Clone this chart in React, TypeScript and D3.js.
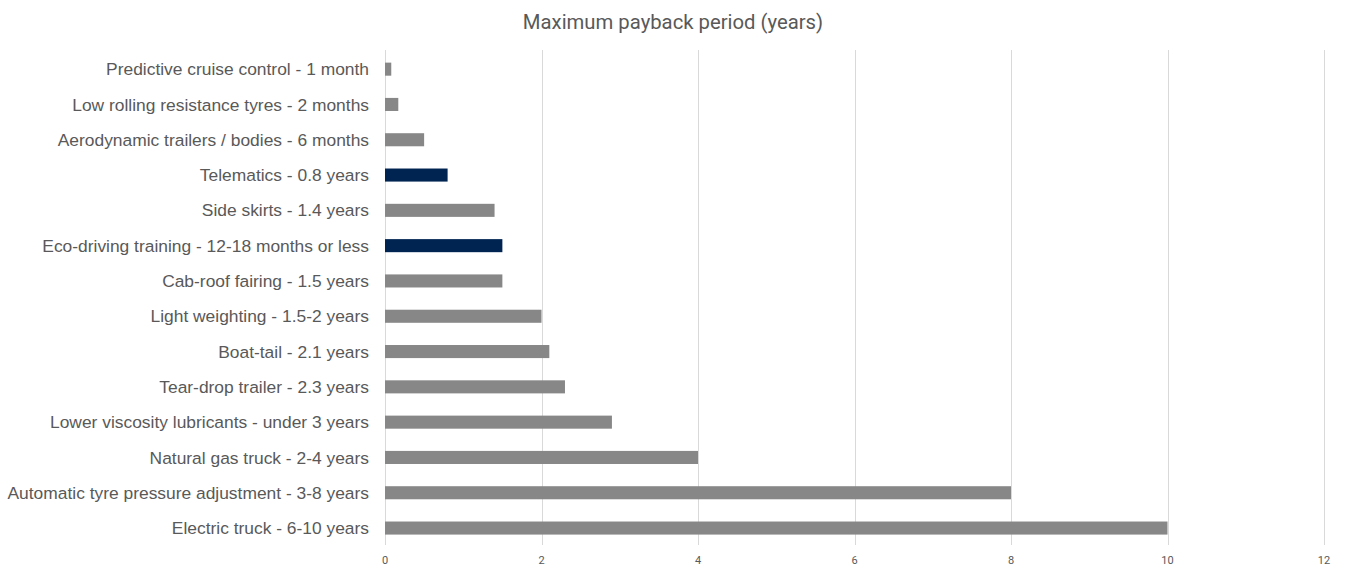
import { useEffect, useRef } from 'react';
import * as d3 from 'd3';

const categories = [
  'Predictive cruise control - 1 month',
  'Low rolling resistance tyres - 2 months',
  'Aerodynamic trailers / bodies - 6 months',
  'Telematics - 0.8 years',
  'Side skirts - 1.4 years',
  'Eco-driving training - 12-18 months or less',
  'Cab-roof fairing - 1.5 years',
  'Light weighting - 1.5-2 years',
  'Boat-tail - 2.1 years',
  'Tear-drop trailer - 2.3 years',
  'Lower viscosity lubricants - under 3 years',
  'Natural gas truck - 2-4 years',
  'Automatic tyre pressure adjustment - 3-8 years',
  'Electric truck - 6-10 years',
];

const paybackYears = [0.08, 0.17, 0.5, 0.8, 1.4, 1.5, 1.5, 2, 2.1, 2.3, 2.9, 4, 8, 10];

const highlighted = ['Telematics - 0.8 years', 'Eco-driving training - 12-18 months or less'];

const xTicks = [0, 2, 4, 6, 8, 10, 12];

const WIDTH = 1345;
const HEIGHT = 567;

export default function App() {
  const svgRef = useRef<SVGSVGElement>(null);

  useEffect(() => {
    if (!svgRef.current) return;
    const svg = d3.select(svgRef.current);
    svg.selectAll('*').remove();

    const x = d3.scaleLinear().domain([0, 12]).range([385, 1324]);
    const y = d3.scaleBand<string>()
      .domain(categories)
      .range([51.5, 545.7])
      .paddingInner(0.63)
      .paddingOuter(0.315);

    // gridlines
    svg.append('g')
      .selectAll('line')
      .data(xTicks)
      .enter()
      .append('line')
      .attr('x1', d => Math.round(x(d)) + 0.5)
      .attr('x2', d => Math.round(x(d)) + 0.5)
      .attr('y1', 50)
      .attr('y2', 545)
      .attr('stroke', '#d9d9d9')
      .attr('stroke-width', 1);

    // bars
    svg.append('g')
      .selectAll('rect')
      .data(categories)
      .enter()
      .append('rect')
      .attr('x', x(0))
      .attr('y', d => y(d)!)
      .attr('width', (_, i) => x(paybackYears[i]) - x(0))
      .attr('height', y.bandwidth())
      .attr('fill', d => (highlighted.includes(d) ? '#002452' : '#878787'));

    // category labels
    svg.append('g')
      .selectAll('text')
      .data(categories)
      .enter()
      .append('text')
      .attr('x', 369)
      .attr('y', d => y(d)! + y.bandwidth() / 2)
      .attr('dy', '0.35em')
      .attr('text-anchor', 'end')
      .style('font-family', '"Liberation Sans", Arial, sans-serif')
      .attr('font-size', 17.4)
      .attr('fill', '#595959')
      .text(d => d);

    // x tick labels
    svg.append('g')
      .selectAll('text')
      .data(xTicks)
      .enter()
      .append('text')
      .attr('x', d => x(d))
      .attr('y', 564)
      .attr('text-anchor', 'middle')
      .style('font-family', 'Roboto, sans-serif')
      .attr('font-size', 11)
      .attr('fill', '#595959')
      .text(d => d);

    // title
    svg.append('text')
      .attr('x', 673)
      .attr('y', 29)
      .attr('text-anchor', 'middle')
      .style('font-family', 'Roboto, sans-serif')
      .attr('font-size', 20.3)
      .attr('fill', '#595959')
      .text('Maximum payback period (years)');
  }, []);

  return (
    <svg
      ref={svgRef}
      width={WIDTH}
      height={HEIGHT}
      style={{ position: 'absolute', left: 0, top: 0, background: '#fff' }}
    />
  );
}
